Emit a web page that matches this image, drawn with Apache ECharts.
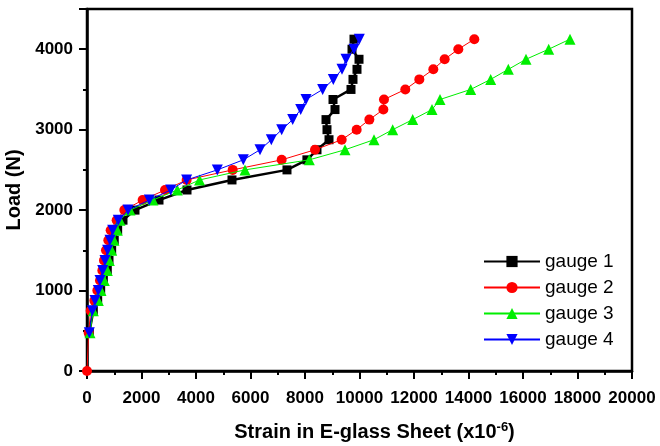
<!DOCTYPE html>
<html><head><meta charset="utf-8">
<script src="https://cdn.jsdelivr.net/npm/echarts@6/dist/echarts.min.js"></script>
<style>html,body{margin:0;padding:0;background:#fff}#c{width:660px;height:446px}</style>
</head><body><div id="c"></div>
<script>
// Load steps (N)
var loads = [475, 750, 875, 1000, 1125, 1250, 1375, 1500, 1625, 1750, 1875, 2000, 2125, 2250, 2375, 2500, 2625, 2750, 2875, 3000, 3125, 3250, 3375, 3500, 3625, 3750, 3875, 4000, 4125];
var loadsG2 = [0].concat(loads);
// Strains (x10^-6)
var gauge1 = [84, 232, 392, 502, 600, 745, 807, 905, 1000, 1125, 1321, 1761, 2642, 3670, 5321, 7339, 8070, 8440, 8881, 8807, 8771, 9101, 9028, 9688, 9761, 9908, 9982, 9725, 9798];
var gauge2 = [0, 60, 135, 269, 379, 477, 563, 624, 697, 783, 869, 1089, 1370, 2042, 2862, 3657, 5346, 7144, 8367, 9346, 9896, 10361, 10875, 10899, 11681, 12195, 12709, 13125, 13626, 14213];
var gauge3 = [110, 232, 416, 514, 635, 745, 818, 905, 991, 1112, 1211, 1578, 2420, 3314, 4130, 5798, 8158, 9468, 10532, 11218, 11952, 12661, 12954, 14080, 14814, 15462, 16110, 16942, 17725];
var gauge4 = [86, 196, 294, 416, 477, 575, 661, 758, 844, 942, 1150, 1505, 2287, 3070, 3657, 4783, 5737, 6349, 6764, 7144, 7548, 7842, 8037, 8648, 9040, 9358, 9505, 9798, 9994];
var seriesNames = ['gauge 1', 'gauge 2', 'gauge 3', 'gauge 4'];
var xTicks = {min: 0, max: 20000, interval: 2000};
var yTicks = {min: 0, max: 4500, interval: 1000};

function pairs(xs, ys) { return xs.map(function (v, i) { return [v, ys[i]]; }); }

var FONT = '"Liberation Sans", Arial, sans-serif';
var chart = echarts.init(document.getElementById('c'), null, {renderer: 'canvas'});
function axisCommon(margin) {
  return {
    axisLine: {show: true, onZero: false, lineStyle: {color: '#000', width: 2.5}},
    axisTick: {show: true, inside: false, length: 8, lineStyle: {color: '#000', width: 2}},
    minorTick: {show: true, splitNumber: 2, length: 4, lineStyle: {color: '#000', width: 2}},
    splitLine: {show: false},
    axisLabel: {color: '#000', fontFamily: FONT, fontWeight: 'bold', fontSize: 17, margin: margin,
      formatter: function (v) { return v > 4000 && v < 5000 ? '' : String(v); }}
  };
}
chart.setOption({
  animation: false,
  backgroundColor: '#fff',
  grid: {left: 87, right: 28, top: 9, bottom: 75, show: true, borderColor: '#000', borderWidth: 2.5,
    containLabel: false, outerBoundsMode: 'none'},
  legend: {
    data: seriesNames, orient: 'vertical', left: 483, top: 252, padding: 0,
    itemWidth: 56, itemHeight: 14, itemGap: 7,
    textStyle: {color: '#000', fontFamily: FONT, fontSize: 19}
  },
  xAxis: Object.assign(axisCommon(19), {
    type: 'value', min: xTicks.min, max: xTicks.max, interval: xTicks.interval,
    name: 'Strain in E-glass Sheet (x10{sup|-6})', nameLocation: 'middle', nameGap: 50,
    nameTextStyle: {color: '#000', fontFamily: FONT, fontWeight: 'bold', fontSize: 20, padding: [0, 0, 0, 30],
      rich: {sup: {fontFamily: FONT, fontWeight: 'bold', fontSize: 13, padding: [0, 0, 10, 0], verticalAlign: 'bottom'}}}
  }),
  yAxis: Object.assign(axisCommon(14), {
    type: 'value', min: yTicks.min, max: yTicks.max, interval: yTicks.interval,
    name: 'Load (N)', nameLocation: 'middle', nameGap: 57, nameRotate: 90,
    nameTextStyle: {color: '#000', fontFamily: FONT, fontWeight: 'bold', fontSize: 20}
  }),
  series: [
    {name: seriesNames[0], type: 'line', data: pairs(gauge1, loads), symbol: 'rect', symbolSize: 9,
      lineStyle: {color: '#000', width: 2.5}, itemStyle: {color: '#000'}, z: 2},
    {name: seriesNames[1], type: 'line', data: pairs(gauge2, loadsG2), symbol: 'circle', symbolSize: 10,
      lineStyle: {color: '#ff0000', width: 1}, itemStyle: {color: '#ff0000'}, z: 3},
    {name: seriesNames[2], type: 'line', data: pairs(gauge3, loads), symbol: 'triangle', symbolSize: 11,
      lineStyle: {color: '#00ee00', width: 1}, itemStyle: {color: '#00ee00'}, z: 4},
    {name: seriesNames[3], type: 'line', data: pairs(gauge4, loads), symbol: 'triangle', symbolRotate: 180, symbolSize: 11,
      lineStyle: {color: '#0000ff', width: 1}, itemStyle: {color: '#0000ff'}, z: 5}
  ].map(function (s) { s.showAllSymbol = true; s.clip = false; return s; })
});
</script></body></html>
